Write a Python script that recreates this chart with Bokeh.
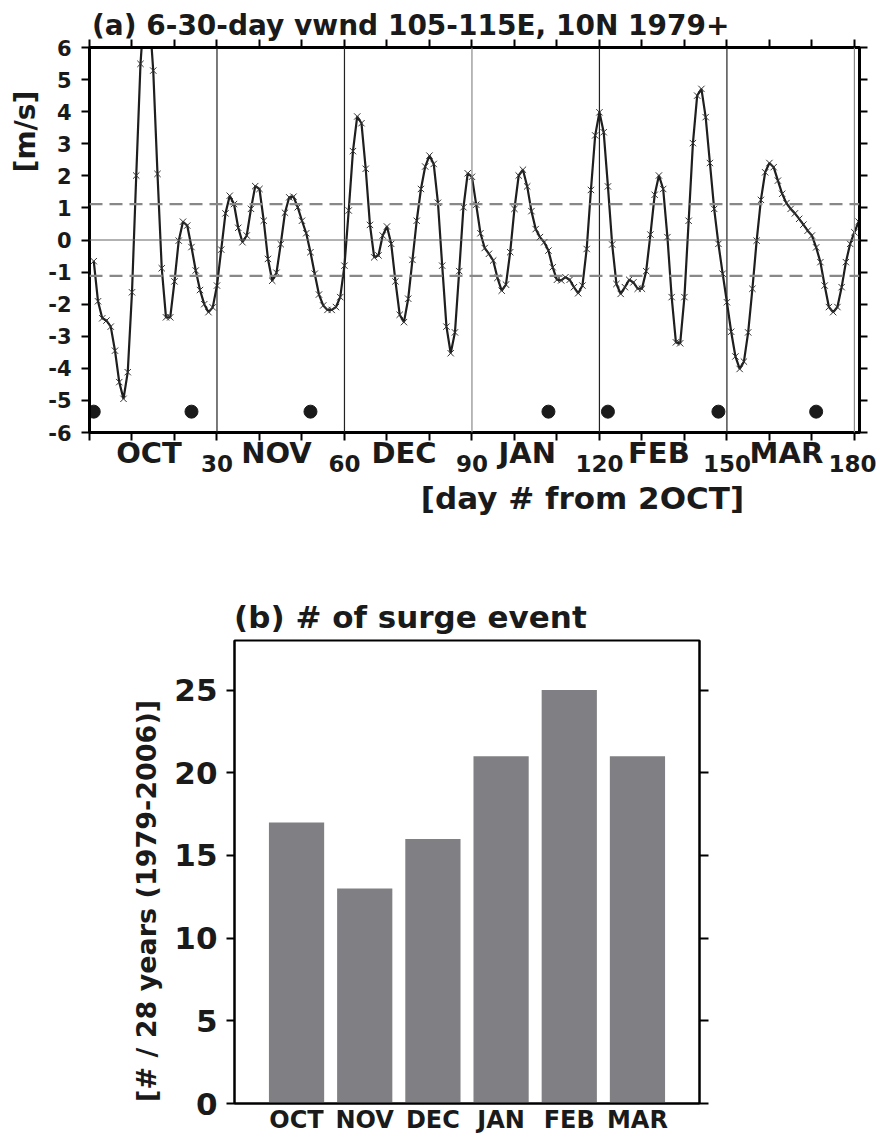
from bokeh.plotting import figure
from bokeh.models import Range1d, FixedTicker, LinearAxis, Span
from bokeh.embed import file_html
from bokeh.resources import INLINE

# ---------------- data ----------------
days = list(range(1, 182))
vwnd = [
    -0.66, -1.91, -2.44, -2.51, -2.70, -3.45, -4.43, -4.95, -4.12, -1.63,
    2.01, 5.49, 7.40, 7.20, 5.28, 2.06, -0.88, -2.41, -2.41, -1.29,
    -0.02, 0.57, 0.45, -0.22, -0.95, -1.56, -2.00, -2.25, -2.10, -1.42,
    -0.30, 0.83, 1.38, 1.12, 0.38, -0.07, 0.14, 0.97, 1.68, 1.59,
    0.60, -0.59, -1.27, -1.02, -0.13, 0.85, 1.33, 1.35, 1.02, 0.60,
    0.21, -0.38, -1.05, -1.70, -2.04, -2.18, -2.18, -2.09, -1.78, -0.80,
    0.92, 2.77, 3.85, 3.64, 2.22, 0.47, -0.54, -0.48, 0.14, 0.42,
    -0.12, -1.29, -2.33, -2.56, -1.83, -0.62, 0.60, 1.59, 2.29, 2.63,
    2.37, 1.16, -0.80, -2.70, -3.53, -2.88, -0.97, 1.02, 2.08, 1.97,
    1.10, 0.21, -0.25, -0.43, -0.64, -1.18, -1.58, -1.39, -0.38, 0.97,
    2.01, 2.19, 1.67, 0.90, 0.34, 0.09, -0.07, -0.33, -0.85, -1.24,
    -1.26, -1.16, -1.24, -1.47, -1.66, -1.42, -0.28, 1.56, 3.26, 3.98,
    3.36, 1.67, -0.14, -1.37, -1.68, -1.47, -1.24, -1.32, -1.52, -1.52,
    -0.97, 0.17, 1.41, 2.01, 1.59, 0.09, -1.78, -3.19, -3.22, -1.78,
    0.60, 3.02, 4.50, 4.71, 3.83, 2.40, 0.97, -0.12, -1.05, -1.94,
    -2.86, -3.63, -4.02, -3.79, -2.88, -1.52, -0.02, 1.25, 2.11, 2.40,
    2.27, 1.85, 1.44, 1.15, 0.97, 0.83, 0.66, 0.48, 0.29, 0.14,
    -0.23, -0.69, -1.42, -2.09, -2.25, -2.09, -1.47, -0.69, -0.12, 0.24,
    0.57,
]
surge_days = [1, 24, 52, 108, 122, 148, 171]
dot_level = -5.35
threshold = 1.12
month_names = ["OCT", "NOV", "DEC", "JAN", "FEB", "MAR"]
month_label_days = [14, 44, 74, 103, 134, 164]
month_bounds = [30, 60, 90, 120, 150, 180]
x_ticks_a = list(range(0, 181, 10))
y_ticks_a = list(range(-6, 7))
surge_counts = [17, 13, 16, 21, 25, 21]
y_ticks_b = [0, 5, 10, 15, 20, 25]

title_a = "(a) 6-30-day vwnd 105-115E, 10N 1979+"
ylabel_a = "[m/s]"
xlabel_a = "[day # from 2OCT]"
title_b = "(b) # of surge event"
ylabel_b = "[# / 28 years (1979-2006)]"

FONT = "DejaVu Sans"
INK = "#1a1a1a"


def make_axis(ax, ticks, labels=None, tick_out=0, size="20px", standoff=5, line=None,
              orient="horizontal", hide_labels=False):
    ax.ticker = FixedTicker(ticks=list(ticks))
    ax.major_tick_out = tick_out
    ax.major_tick_in = 0
    ax.minor_tick_out = 0
    ax.minor_tick_in = 0
    ax.minor_tick_line_color = None
    ax.major_tick_line_width = 2
    ax.major_tick_line_color = "black" if tick_out else None
    ax.axis_line_width = line or 1
    ax.axis_line_color = "black" if line else None
    ax.major_label_standoff = standoff
    ax.major_label_text_font = FONT
    ax.major_label_text_font_style = "bold"
    ax.major_label_text_color = INK
    ax.major_label_text_font_size = size
    ax.major_label_orientation = orient
    if hide_labels:
        ax.major_label_overrides = {t: "" for t in ticks}
        ax.major_label_text_alpha = 0
        ax.major_label_text_font_size = "1px"
        ax.major_label_standoff = 0
    elif labels is not None:
        ax.major_label_overrides = {t: l for t, l in zip(ticks, labels)}
    return ax


# ---------------- panel (a) ----------------
p1 = figure(width=876, height=530, x_range=Range1d(0, 181.2), y_range=Range1d(-6, 6),
            output_backend="svg", toolbar_location=None,
            min_border_left=89, min_border_right=17, min_border_top=47, min_border_bottom=98)
p1.grid.visible = False
p1.outline_line_color = "black"
p1.outline_line_width = 3

# bottom: 10-day ticks, then month names, day numbers and the axis title
make_axis(p1.xaxis[0], x_ticks_a, tick_out=8, line=3, hide_labels=True)
ax_mon = make_axis(LinearAxis(), month_label_days, labels=month_names, size="29px",
                   standoff=-5)
p1.add_layout(ax_mon, "below")
ax_num = make_axis(LinearAxis(), month_bounds, labels=[str(b) for b in month_bounds],
                   size="23px", standoff=-18)
p1.add_layout(ax_num, "below")
ax_xl = make_axis(LinearAxis(), [116], labels=[xlabel_a], size="31px", standoff=5)
p1.add_layout(ax_xl, "below")
# top: 10-day ticks, then title
ax_top = make_axis(LinearAxis(), x_ticks_a, tick_out=8, line=3, hide_labels=True)
p1.add_layout(ax_top, "above")
ax_title = make_axis(LinearAxis(), [75.6], labels=[title_a], size="28px", standoff=-2)
p1.add_layout(ax_title, "above")
# left: values and unit
make_axis(p1.yaxis[0], y_ticks_a, labels=[str(v) for v in y_ticks_a], tick_out=8,
          size="21px", standoff=10, line=3)
ax_yl = make_axis(LinearAxis(), [3.38], labels=[ylabel_a], size="28px", standoff=3,
                  orient="vertical")
p1.add_layout(ax_yl, "left")
# right: ticks only
ax_r = make_axis(LinearAxis(), y_ticks_a, tick_out=8, line=3, hide_labels=True)
p1.add_layout(ax_r, "right")

for b in month_bounds:
    col = "#8a8a8a" if b in (90, 180) else "#222222"
    p1.add_layout(Span(location=b, dimension="height", line_color=col, line_width=1.2))
p1.add_layout(Span(location=0, dimension="width", line_color="#666666", line_width=1.2))
for t in (threshold, -threshold):
    p1.add_layout(Span(location=t, dimension="width", line_color="#888888",
                       line_width=2.2, line_dash="13 7"))

p1.line(days, vwnd, line_color="#1e1e1e", line_width=2.2)
p1.scatter(days, vwnd, marker="x", size=9, line_color="#333333", line_width=1)
p1.scatter(surge_days, [dot_level] * len(surge_days), marker="circle", size=13,
           fill_color=INK, line_color=INK)

# ---------------- panel (b) ----------------
idx = list(range(len(month_names)))
p2 = figure(width=876, height=606, x_range=Range1d(-0.91, 5.91), y_range=Range1d(0, 28),
            output_backend="svg", toolbar_location=None,
            min_border_left=234, min_border_right=177, min_border_top=110, min_border_bottom=31)
p2.grid.visible = False
p2.outline_line_color = "black"
p2.outline_line_width = 2
p2.vbar(x=idx, top=surge_counts, width=0.81, fill_color="#808084", line_color=None)

make_axis(p2.yaxis[0], y_ticks_b, labels=[str(v) for v in y_ticks_b], tick_out=8,
          size="31px", standoff=9, line=2)
ax_yl2 = make_axis(LinearAxis(), [12.25], labels=[ylabel_b], size="27px", standoff=10,
                   orient="vertical")
p2.add_layout(ax_yl2, "left")
make_axis(p2.xaxis[0], idx, labels=month_names, size="24px", standoff=2, line=2)
ax_top2 = make_axis(LinearAxis(), [1.67], labels=[title_b], size="31px", standoff=6)
p2.add_layout(ax_top2, "above")
ax_r2 = make_axis(LinearAxis(), y_ticks_b, tick_out=9, line=2, hide_labels=True)
p2.add_layout(ax_r2, "right")

open("out.html", "w").write(file_html([p1, p2], INLINE))
